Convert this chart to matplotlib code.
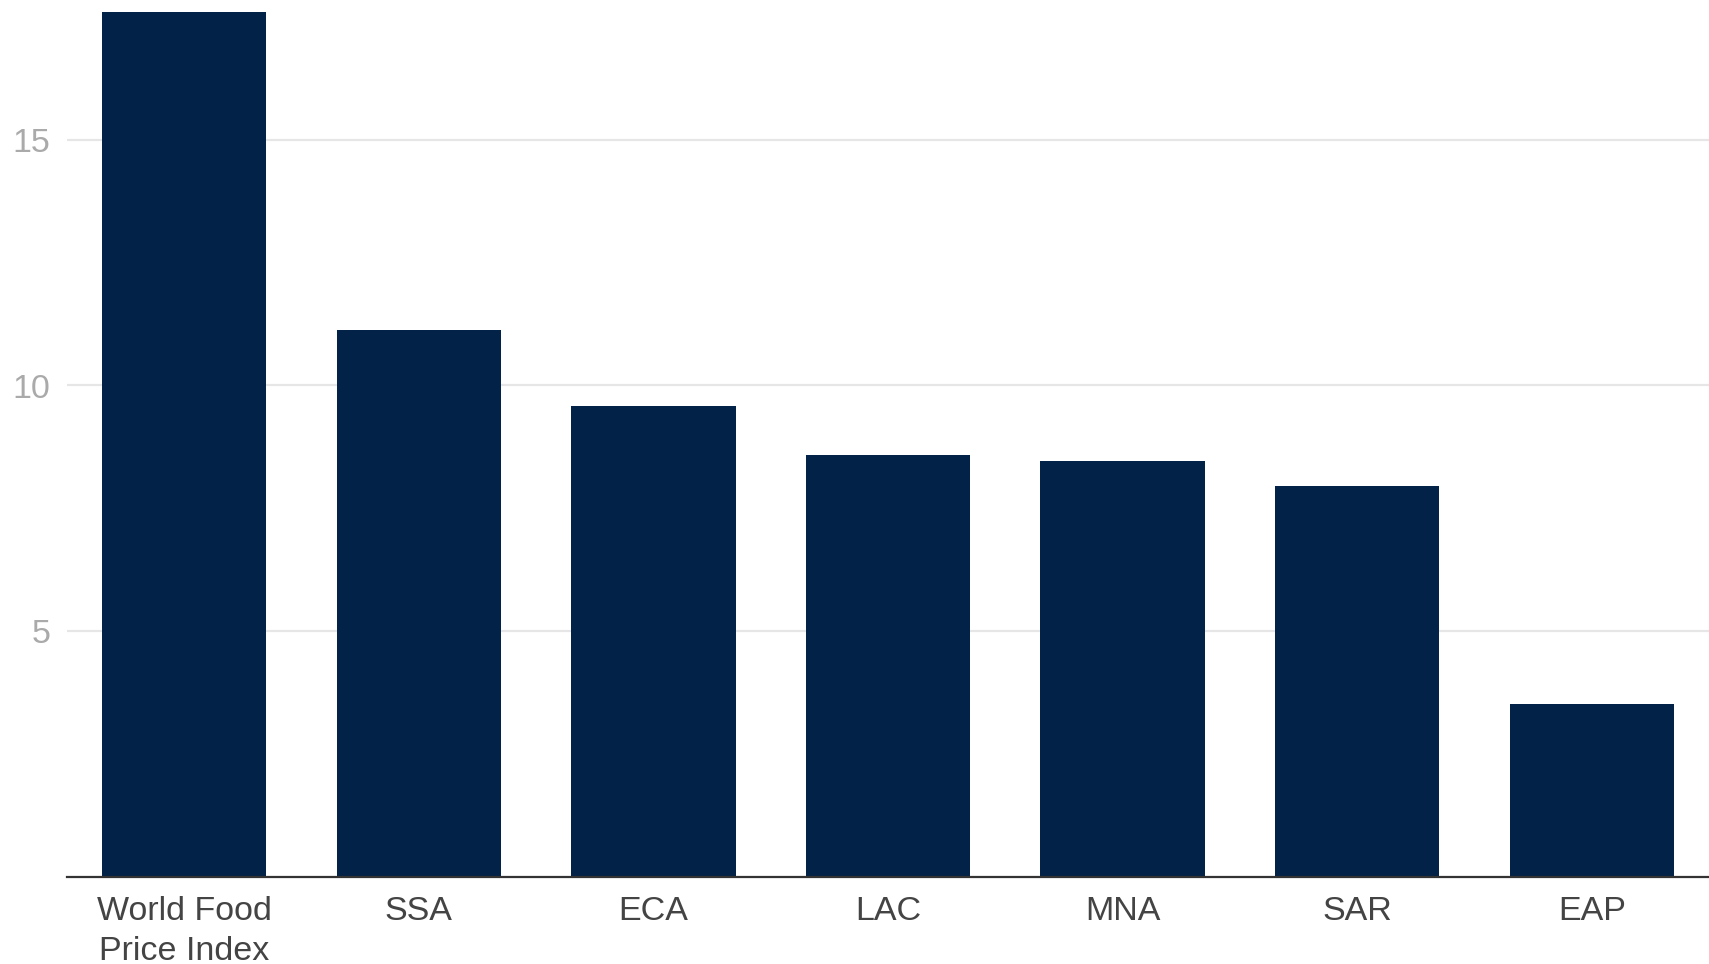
import matplotlib
matplotlib.use("Agg")
import matplotlib.pyplot as plt

categories = ["World Food\nPrice Index", "SSA", "ECA", "LAC", "MNA", "SAR", "EAP"]
values = [17.60, 11.12, 9.59, 8.59, 8.47, 7.95, 3.52]
yticks = [5, 10, 15]

plt.rcParams['font.family'] = ['Liberation Sans', 'DejaVu Sans']

W, H = 1709, 964
fig = plt.figure(figsize=(W / 100, H / 100), dpi=100)
ax_left = 67 / W
ax_bottom = (H - 876.8) / H
ax = fig.add_axes([ax_left, ax_bottom, 1 - ax_left, 1 - ax_bottom])

x = list(range(len(categories)))
ax.bar(x, values, width=0.70, color="#022247", zorder=3)

ax.set_xlim(-0.5, len(categories) - 0.5)
ax.set_ylim(0, 876.8 / 49.13)
ax.set_yticks(yticks)
ax.set_yticklabels([str(t) for t in yticks])
ax.set_xticks(x)
ax.set_xticklabels(categories, linespacing=1.38)

ax.yaxis.grid(True, color="#e6e6e6", linewidth=1.6, zorder=0)
ax.xaxis.grid(False)
for s in ["left", "right", "top"]:
    ax.spines[s].set_visible(False)
ax.spines["bottom"].set_color("#333333")
ax.spines["bottom"].set_linewidth(1.6)
ax.spines["bottom"].set_zorder(4)

ax.tick_params(axis="y", length=0, pad=12, labelsize=24.5, labelcolor="#aaaaaa")
ax.tick_params(axis="x", length=0, pad=13.5, labelsize=24.5, labelcolor="#444444")

fig.savefig("out.png", dpi=100)
